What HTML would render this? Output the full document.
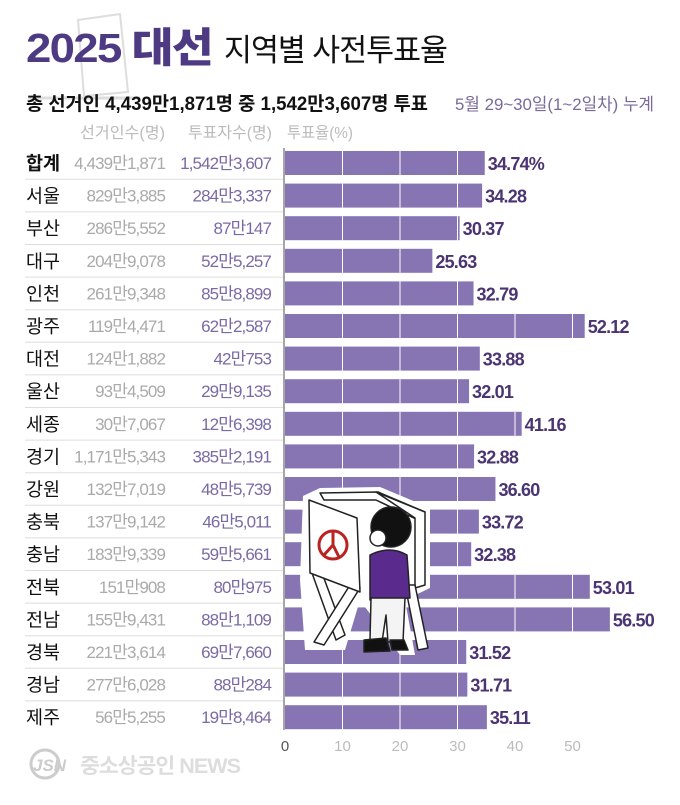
<!DOCTYPE html>
<html><head><meta charset="utf-8"><style>
body{margin:0;width:680px;height:800px;background:#fff;overflow:hidden;font-family:"Liberation Sans","Noto Sans CJK KR",sans-serif;}
svg text{font-family:"Liberation Sans","Noto Sans CJK KR",sans-serif;}
</style></head><body>
<svg width="680" height="800" viewBox="0 0 680 800">
<polygon points="78,20 120,14 128,92 84,96" fill="none" stroke="#ddd" stroke-width="2"/>
<line x1="28" y1="98" x2="140" y2="98" stroke="#ddd" stroke-width="3"/>
<text x="26" y="62" font-size="41" font-weight="900" fill="#4e3a82" letter-spacing="-1.5" textLength="186" lengthAdjust="spacingAndGlyphs">2025 대선</text>
<text x="224" y="61" font-size="31" fill="#111" letter-spacing="-1" textLength="223" lengthAdjust="spacingAndGlyphs">지역별 사전투표율</text>
<text x="26" y="110" font-size="19" font-weight="bold" fill="#111" textLength="402" lengthAdjust="spacingAndGlyphs">총 선거인 4,439만1,871명 중 1,542만3,607명 투표</text>
<text x="654" y="110" font-size="17" fill="#7a6a9a" text-anchor="end" textLength="199" lengthAdjust="spacingAndGlyphs">5월 29~30일(1~2일차) 누계</text>
<text x="80" y="138" font-size="16" fill="#bbb" textLength="85" lengthAdjust="spacingAndGlyphs">선거인수(명)</text>
<text x="188" y="138" font-size="16" fill="#bbb" textLength="84" lengthAdjust="spacingAndGlyphs">투표자수(명)</text>
<text x="287" y="138" font-size="16" fill="#bbb" textLength="66" lengthAdjust="spacingAndGlyphs">투표율(%)</text>
<g id="rows"></g>
<line x1="284" y1="148" x2="284" y2="730" stroke="#888" stroke-width="1.5"/>
<g font-size="15" fill="#bbb" text-anchor="middle">
<text x="285" y="751" fill="#555">0</text><text x="342.5" y="751">10</text><text x="400" y="751">20</text><text x="457.5" y="751">30</text><text x="515" y="751">40</text><text x="572.5" y="751">50</text>
</g>
<circle cx="45" cy="764" r="14" fill="none" stroke="#ccc" stroke-width="3"/>
<text x="33" y="771" font-size="17" font-weight="bold" fill="#ccc" font-style="italic">JSN</text>
<text x="80" y="773" font-size="21" font-weight="bold" fill="#ddd" letter-spacing="-1" textLength="160" lengthAdjust="spacingAndGlyphs">중소상공인 NEWS</text>
<!-- illustration -->
<polygon points="303,496 320,488 380,487 430,508 430,588 405,600 415,655 400,655 360,600 345,650 305,650 300,580" fill="#fff"/>
<g stroke="#222" stroke-width="1.5" stroke-linejoin="round">
<polygon points="320,493 378,492 425,512 418,520 376,500 324,500" fill="#fff"/>
<polygon points="376,492 425,512 425,585 415,588 415,518" fill="#fff"/>
<polygon points="312,573 322,573 345,635 336,640" fill="#fff"/>
<polygon points="350,585 360,588 324,645 314,642" fill="#fff"/>
<polygon points="405,585 415,585 428,648 418,650" fill="#fff"/>
<polygon points="309,500 357,518 360,592 310,573" fill="#fff"/>
<circle cx="333" cy="545" r="14" fill="none" stroke="#b22" stroke-width="3"/>
<path d="M333,531 L333,545 M333,545 L324,555 M333,545 L339,557" stroke="#b22" stroke-width="3" fill="none"/>
<path d="M370,555 Q390,545 407,555 L410,598 L370,600 Z" fill="#5a2a8c"/>
<path d="M371,598 L405,598 L403,642 L388,642 L386,615 L382,642 L370,640 Z" fill="#f4f4f4"/>
<path d="M364,640 L386,638 L390,651 L364,652 Z M390,640 L404,640 L408,650 L392,650 Z" fill="#111"/>
<circle cx="391" cy="527" r="20" fill="#111"/>
<circle cx="378" cy="538" r="8" fill="#fff"/>
</g>
</svg>
<script>
var d=[["합계","4,439만1,871","1,542만3,607",34.74,"34.74%"],["서울","829만3,885","284만3,337",34.28],["부산","286만5,552","87만147",30.37],["대구","204만9,078","52만5,257",25.63],["인천","261만9,348","85만8,899",32.79],["광주","119만4,471","62만2,587",52.12],["대전","124만1,882","42만753",33.88],["울산","93만4,509","29만9,135",32.01],["세종","30만7,067","12만6,398",41.16],["경기","1,171만5,343","385만2,191",32.88],["강원","132만7,019","48만5,739",36.60],["충북","137만9,142","46만5,011",33.72],["충남","183만9,339","59만5,661",32.38],["전북","151만908","80만975",53.01],["전남","155만9,431","88만1,109",56.50],["경북","221만3,614","69만7,660",31.52],["경남","277만6,028","88만284",31.71],["제주","56만5,255","19만8,464",35.11]];
var s="",S=5.75;
d.forEach(function(r,i){var y=163+i*32.6,w=r[3]*S;
s+='<text x="26" y="'+(y+7)+'" font-size="18.5" '+(i==0?'font-weight="bold" ':'')+'fill="#111">'+r[0]+'</text>';
s+='<text x="165" y="'+(y+6)+'" font-size="17" fill="#aaa" text-anchor="end" letter-spacing="-0.9">'+r[1]+'</text>';
s+='<text x="271" y="'+(y+6)+'" font-size="17" fill="#7a6aa4" text-anchor="end" letter-spacing="-0.9">'+r[2]+'</text>';
if(i<17)s+='<line x1="25" y1="'+(y+16.3)+'" x2="283" y2="'+(y+16.3)+'" stroke="#ddd"/>';
s+='<rect x="285" y="'+(y-12)+'" width="'+w+'" height="24" fill="#8774b3"/>';
for(var k=1;k<6;k++){var gx=285+k*10*S;if(gx<285+w)s+='<line x1="'+gx+'" y1="'+(y-12)+'" x2="'+gx+'" y2="'+(y+12)+'" stroke="#fff" stroke-width="1"/>';}
s+='<text x="'+(288+w)+'" y="'+(y+7)+'" font-size="18" font-weight="bold" fill="#4a3472" letter-spacing="-0.8">'+(r[4]||r[3].toFixed(2))+'</text>';});
document.getElementById("rows").innerHTML=s;
</script>
</body></html>
